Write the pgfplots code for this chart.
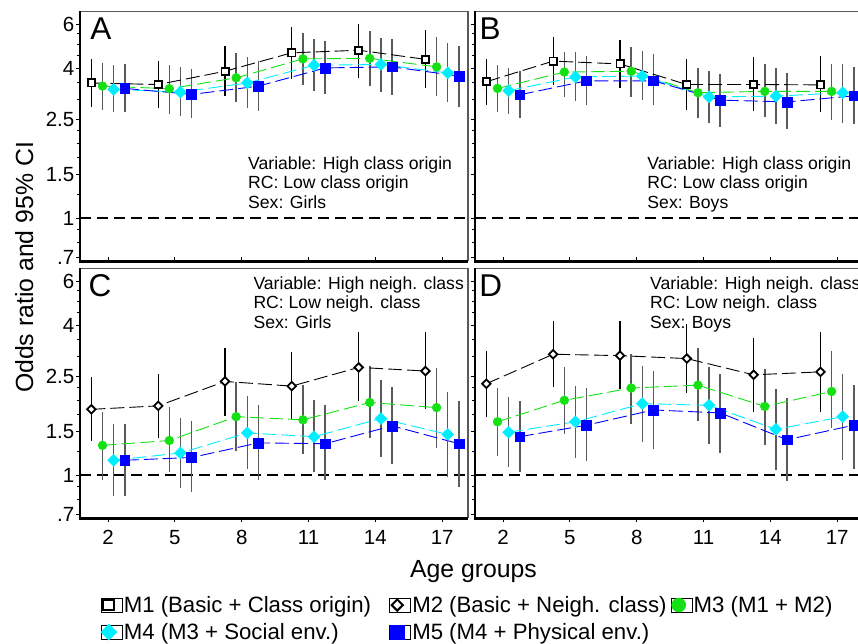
\documentclass[border=0pt]{standalone}
\usepackage{fontspec}
\setmainfont{Liberation Sans}
\usepackage{pgfplots}
\usepackage{pgfplotstable}
\pgfplotsset{compat=1.18}
\definecolor{mgreen}{RGB}{20,225,20}
\definecolor{mcyan}{RGB}{0,238,255}
\definecolor{mblue}{RGB}{0,0,255}
\definecolor{cigray}{RGB}{90,90,90}

% columns: g = age group; y,l,h = odds ratio, lower and upper 95% CI
% series 1 = M1 (panels A,B) or M2 (panels C,D); 3 = M3; 4 = M4; 5 = M5
\pgfplotstableread{
g y1 l1 h1 y3 l3 h3 y4 l4 h4 y5 l5 h5
2 3.49 2.80 4.34 3.39 2.72 4.20 3.29 2.66 4.11 3.32 2.66 4.14
5 3.44 2.76 4.27 3.31 2.63 4.11 3.21 2.57 4.03 3.14 2.52 3.96
8 3.89 3.09 4.90 3.66 2.92 4.61 3.49 2.77 4.42 3.39 2.69 4.28
11 4.61 3.61 5.83 4.36 3.42 5.54 4.11 3.24 5.26 4.01 3.15 5.13
14 4.72 3.64 6.04 4.38 3.39 5.65 4.14 3.22 5.29 4.05 3.12 5.26
17 4.34 3.32 5.68 4.05 3.09 5.34 3.83 2.92 5.05 3.72 2.80 4.91
}\tabA
\pgfplotstableread{
g y1 l1 h1 y3 l3 h3 y4 l4 h4 y5 l5 h5
2 3.53 2.86 4.34 3.32 2.67 4.11 3.25 2.61 4.01 3.13 2.53 3.90
5 4.27 3.42 5.31 3.86 3.07 4.65 3.69 2.95 4.63 3.56 2.86 4.47
8 4.16 3.32 5.18 3.89 3.07 4.87 3.72 2.98 4.68 3.56 2.84 4.55
11 3.44 2.72 4.34 3.19 2.52 4.01 3.07 2.42 3.89 2.98 2.33 3.79
14 3.44 2.70 4.42 3.23 2.55 4.17 3.09 2.40 3.99 2.93 2.29 3.81
17 3.43 2.67 4.47 3.23 2.48 4.17 3.19 2.42 4.17 3.10 2.40 4.05
}\tabB
\pgfplotstableread{
g y1 l1 h1 y3 l3 h3 y4 l4 h4 y5 l5 h5
2 1.84 1.37 2.49 1.32 0.96 1.79 1.15 0.83 1.60 1.15 0.83 1.60
5 1.90 1.41 2.55 1.38 1.03 1.88 1.23 0.89 1.70 1.18 0.86 1.65
8 2.38 1.73 3.25 1.72 1.25 2.36 1.48 1.06 2.08 1.35 0.96 1.91
11 2.28 1.68 3.13 1.67 1.22 2.30 1.43 1.03 2.01 1.34 0.96 1.91
14 2.71 1.98 3.76 1.96 1.41 2.74 1.69 1.19 2.41 1.58 1.11 2.27
17 2.62 1.84 3.76 1.87 1.29 2.69 1.46 0.99 2.15 1.34 0.90 1.98
}\tabC
\pgfplotstableread{
g y1 l1 h1 y3 l3 h3 y4 l4 h4 y5 l5 h5
2 2.33 1.72 3.16 1.64 1.20 2.24 1.49 1.08 2.06 1.43 1.03 1.98
5 3.06 2.27 4.15 2.00 1.46 2.73 1.64 1.17 2.28 1.59 1.14 2.24
8 3.02 2.21 4.15 2.24 1.61 3.08 1.94 1.36 2.74 1.83 1.28 2.62
11 2.94 2.14 4.06 2.30 1.65 3.23 1.91 1.34 2.73 1.78 1.23 2.55
14 2.53 1.79 3.54 1.89 1.33 2.66 1.53 1.05 2.21 1.39 0.95 2.04
17 2.60 1.80 3.74 2.17 1.55 3.16 1.72 1.15 2.54 1.59 1.06 2.30
}\tabD

\pgfplotsset{
  dashln/.style={line width=0.9pt, dash pattern=on 14pt off 5pt},
  serA/.style={dashln, black, mark=square*, mark size=3.6pt, mark options={solid, fill=white, draw=black, line width=1.8pt}},
  serB/.style={dashln, black, mark=square*, mark size=3.0pt, mark options={solid, rotate=45, fill=white, draw=black, line width=1.8pt}},
  serC/.style={dashln, mgreen, mark=*, mark size=4.4pt, mark options={solid, draw=mgreen, line width=0.5pt, fill=mgreen}},
  serD/.style={dashln, mcyan, mark=square*, mark size=4.2pt, mark options={solid, rotate=45, draw=mcyan, line width=0.5pt, fill=mcyan}},
  serE/.style={dashln, mblue, mark=square*, mark size=4.9pt, mark options={solid, draw=mblue, line width=0.5pt, fill=mblue}},
}

% confidence interval spikes: table, x offset, series, colour, width
\newcommand\ci[5]{\addplot[draw=none, mark=none,
   error bars/y dir=both, error bars/y explicit, error bars/error mark=none,
   error bars/error bar style={draw=#4, solid, line width=#5}]
   table[x expr=\thisrow{g}+#2, y=y#3, y error plus expr=\thisrow{h#3}-\thisrow{y#3}, y error minus expr=\thisrow{y#3}-\thisrow{l#3}] {#1};}
\newcommand\ser[4]{\addplot[#4] table[x expr=\thisrow{g}+#2, y=y#3] {#1};}
\newcommand\refline{\addplot[black, line width=2pt, dash pattern=on 11pt off 6pt] coordinates {(0.74,1) (18.16,1)};}
\newcommand\frm{%
  \draw[black!65, line width=1.2pt] (rel axis cs:0,1) -- (rel axis cs:1,1) -- (rel axis cs:1,0);
  \draw[black, line width=2.2pt] (rel axis cs:0,1) -- (rel axis cs:0,0) -- (rel axis cs:1,0);}
\newcommand\panelbody[2]{% table, first-series style
  \refline
  \ci{#1}{-0.75}{1}{black}{1.1pt}
  \ci{#1}{-0.25}{3}{cigray}{1.5pt}
  \ci{#1}{0.25}{4}{cigray}{1.5pt}
  \ci{#1}{0.75}{5}{cigray}{1.5pt}
  \ser{#1}{-0.75}{1}{#2}
  \ser{#1}{-0.25}{3}{serC}
  \ser{#1}{0.25}{4}{serD}
  \ser{#1}{0.75}{5}{serE}
  \frm}
\tikzset{annot/.style={anchor=base west, inner sep=0pt, font=\fontsize{17.6}{20}\selectfont},
  plet/.style={anchor=base west, inner sep=0pt, font=\fontsize{31.5}{36}\selectfont}}

\begin{document}
\begin{tikzpicture}
\useasboundingbox (0,0) rectangle (858pt,644pt);

% Panel A
\begin{axis}[scale only axis, width=388pt, height=250pt,
    xmin=0.74, xmax=18.16, ymode=log, ymin=0.672, ymax=6.75,
    xtick={2,5,8,11,14,17}, ytick={0.7,1,1.5,2.5,4,6},
    minor ytick={0.8,0.9,1.25,1.75,2,2.25,3,3.5,4.5,5,5.5},
    tick pos=left, tick align=outside, major tick length=4pt, minor tick length=3pt,
    tick style={black, line width=1pt}, axis line style={draw=none}, clip=false,
    xtick style={yshift=4pt},
    ticklabel style={font=\fontsize{20.5}{24}\selectfont},
    yticklabel style={inner xsep=1.5pt},
    xticklabels={}, yticklabels={.7,1,1.5,2.5,4,6},
    at={(80pt,382.5pt)}, anchor=south west]
\panelbody{\tabA}{serA}
\node[plet] at (rel axis cs:0.026,0.889) {A};
\node[annot] at (rel axis cs:0.433,0.369) {Variable: High class origin};
\node[annot] at (rel axis cs:0.433,0.290) {RC: Low class origin};
\node[annot] at (rel axis cs:0.433,0.2116) {Sex: Girls};
\end{axis}

% Panel B
\begin{axis}[scale only axis, width=388pt, height=250pt,
    xmin=0.74, xmax=18.16, ymode=log, ymin=0.672, ymax=6.75,
    xtick={2,5,8,11,14,17}, ytick={0.7,1,1.5,2.5,4,6},
    minor ytick={0.8,0.9,1.25,1.75,2,2.25,3,3.5,4.5,5,5.5},
    tick pos=left, tick align=outside, major tick length=4pt, minor tick length=3pt,
    tick style={black, line width=1pt}, axis line style={draw=none}, clip=false,
    xtick style={yshift=4pt},
    ticklabel style={font=\fontsize{20.5}{24}\selectfont},
    xticklabels={}, yticklabels={},
    at={(475pt,382.5pt)}, anchor=south west]
\panelbody{\tabB}{serA}
\node[plet] at (rel axis cs:0.0113,0.889) {B};
\node[annot] at (rel axis cs:0.444,0.369) {Variable: High class origin};
\node[annot] at (rel axis cs:0.444,0.290) {RC: Low class origin};
\node[annot] at (rel axis cs:0.444,0.2116) {Sex: Boys};
\end{axis}

% Panel C
\begin{axis}[scale only axis, width=388pt, height=250pt,
    xmin=0.74, xmax=18.16, ymode=log, ymin=0.672, ymax=6.75,
    xtick={2,5,8,11,14,17}, ytick={0.7,1,1.5,2.5,4,6},
    minor ytick={0.8,0.9,1.25,1.75,2,2.25,3,3.5,4.5,5,5.5},
    tick pos=left, tick align=outside, major tick length=4pt, minor tick length=3pt,
    tick style={black, line width=1pt}, axis line style={draw=none}, clip=false,
    ticklabel style={font=\fontsize{20.5}{24}\selectfont},
    yticklabel style={inner xsep=1.5pt}, xticklabel style={yshift=-4pt},
    xticklabels={2,5,8,11,14,17}, yticklabels={.7,1,1.5,2.5,4,6},
    at={(80pt,125.5pt)}, anchor=south west,
    legend columns=3, legend cell align=left,
    legend style={at={(axis description cs:0.0531,-0.311)}, anchor=north west, draw=none, fill=none,
      inner sep=0pt, outer sep=0pt, font=\fontsize{22.2}{26}\selectfont,
      column sep=0pt, row sep=9.5pt, nodes={inner sep=0pt},
      /tikz/column 1/.style={column sep=1.8pt}, /tikz/column 3/.style={column sep=1.8pt},
      /tikz/column 5/.style={column sep=1.8pt},
      /tikz/column 2/.style={column sep=17.9pt}, /tikz/column 4/.style={column sep=3.9pt}},
    legend image code/.code={\path (0pt,-7pt) rectangle (21pt,7pt); \draw[#1] plot coordinates {(8pt,0pt)};}]
\addlegendimage{only marks, mark=square*, mark size=5.35pt, mark options={solid, fill=white, draw=black, line width=2pt}}
\addlegendimage{only marks, mark=square*, mark size=3.95pt, mark options={solid, rotate=45, fill=white, draw=black, line width=2pt}}
\addlegendimage{only marks, mark=*, mark size=7pt, mark options={solid, draw=mgreen, line width=0.5pt, fill=mgreen}}
\addlegendimage{only marks, mark=square*, mark size=5.7pt, mark options={solid, rotate=45, draw=mcyan, line width=0.5pt, fill=mcyan}}
\addlegendimage{only marks, mark=square*, mark size=6.8pt, mark options={solid, draw=mblue, line width=0.5pt, fill=mblue}}
\legend{M1 (Basic + Class origin), M2 (Basic + Neigh. class), M3 (M1 + M2), M4 (M3 + Social env.), M5 (M4 + Physical env.)}
\panelbody{\tabC}{serB}
\node[plet] at (rel axis cs:0.0216,0.886) {C};
\node[annot] at (rel axis cs:0.4467,0.9156) {Variable: High neigh. class};
\node[annot] at (rel axis cs:0.4467,0.838) {RC: Low neigh. class};
\node[annot] at (rel axis cs:0.4467,0.758) {Sex: Girls};
\end{axis}

% Panel D
\begin{axis}[scale only axis, width=388pt, height=250pt,
    xmin=0.74, xmax=18.16, ymode=log, ymin=0.672, ymax=6.75,
    xtick={2,5,8,11,14,17}, ytick={0.7,1,1.5,2.5,4,6},
    minor ytick={0.8,0.9,1.25,1.75,2,2.25,3,3.5,4.5,5,5.5},
    tick pos=left, tick align=outside, major tick length=4pt, minor tick length=3pt,
    tick style={black, line width=1pt}, axis line style={draw=none}, clip=false,
    ticklabel style={font=\fontsize{20.5}{24}\selectfont},
    xticklabel style={yshift=-4pt},
    xticklabels={2,5,8,11,14,17}, yticklabels={},
    at={(475pt,125.5pt)}, anchor=south west]
\panelbody{\tabD}{serB}
\node[plet] at (rel axis cs:0.0108,0.886) {D};
\node[annot] at (rel axis cs:0.451,0.9156) {Variable: High neigh. class};
\node[annot] at (rel axis cs:0.451,0.838) {RC: Low neigh. class};
\node[annot] at (rel axis cs:0.451,0.758) {Sex: Boys};
\end{axis}

\node[rotate=90, anchor=base, inner sep=0pt, font=\fontsize{24.8}{29}\selectfont] at (33pt,376.5pt) {Odds ratio and 95\% CI};
\node[anchor=base, inner sep=0pt, font=\fontsize{24.8}{29}\selectfont] at (473.5pt,66pt) {Age groups};
\end{tikzpicture}
\end{document}
